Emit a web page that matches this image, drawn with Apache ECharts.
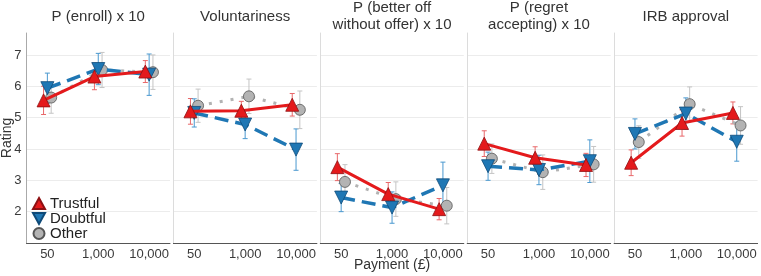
<!DOCTYPE html>
<html>
<head>
<meta charset="utf-8">
<script src="https://cdn.jsdelivr.net/npm/echarts@6/dist/echarts.min.js"></script>
<style>
html,body{margin:0;padding:0;background:#fff;}
#chart{width:761px;height:276px;}
</style>
</head>
<body>
<div id="chart"></div>
<script>
// ---- data ----
const categories = ['50', '1,000', '10,000'];
const panelTitles = ['P (enroll) x 10', 'Voluntariness', 'P (better off\nwithout offer) x 10', 'P (regret\naccepting) x 10', 'IRB approval'];
const groups = ['Trustful', 'Doubtful', 'Other'];
const yTicks = [2, 3, 4, 5, 6, 7];

const trustfulMean = [[5.55, 6.31, 6.47], [5.20, 5.22, 5.41], [3.42, 2.56, 2.08], [4.17, 3.72, 3.49], [3.56, 4.83, 5.15]];
const trustfulErr  = [[0.45, 0.42, 0.35], [0.41, 0.30, 0.36], [0.43, 0.37, 0.34], [0.41, 0.35, 0.37], [0.41, 0.42, 0.35]];
const doubtfulMean = [[5.94, 6.55, 6.37], [5.15, 4.78, 3.98], [2.45, 2.13, 2.84], [3.45, 3.33, 3.61], [4.48, 5.13, 4.23]];
const doubtfulErr  = [[0.48, 0.50, 0.66], [0.45, 0.45, 0.66], [0.45, 0.50, 0.74], [0.45, 0.47, 0.68], [0.48, 0.50, 0.62]];
const otherMean    = [[5.64, 6.52, 6.45], [5.38, 5.68, 5.25], [2.95, 2.40, 2.19], [3.69, 3.26, 3.51], [4.22, 5.43, 4.75]];
const otherErr     = [[0.50, 0.56, 0.55], [0.53, 0.55, 0.60], [0.55, 0.55, 0.58], [0.47, 0.55, 0.57], [0.52, 0.55, 0.60]];

// ---- styling / layout ----
const FONT = 'Liberation Sans, Arial, Helvetica, sans-serif';
const panelLeft0 = 26.5, panelStep = 146.9, panelWidth = 143.5, panelTop = 33, panelHeight = 210;
const dodge = { Trustful: -0.075, Doubtful: 0, Other: 0.075 };
const styles = {
  Trustful: { color: '#e41a1c', border: '#8e1012', err: '#e8686a', symbol: 'triangle', rotate: 0, size: 13,
              line: { type: 'solid', width: 3 } },
  Doubtful: { color: '#1f77b4', border: '#0e4a78', err: '#4a98cf', symbol: 'triangle', rotate: 180, size: 13,
              line: { type: [14, 7], width: 3.5 } },
  Other:    { color: '#b3b3b3', border: '#555555', err: '#c4c4c4', symbol: 'circle', rotate: 0, size: 11,
              line: { type: [3, 8], width: 3 } }
};
const meanData = { Trustful: trustfulMean, Doubtful: doubtfulMean, Other: otherMean };
const errData = { Trustful: trustfulErr, Doubtful: doubtfulErr, Other: otherErr };

const grids = [], xAxes = [], yAxes = [], series = [], graphics = [];

for (let i = 0; i < panelTitles.length; i++) {
  const left = panelLeft0 + i * panelStep;
  grids.push({ left: left, top: panelTop, width: panelWidth, height: panelHeight, containLabel: false });
  xAxes.push({
    type: 'value', gridIndex: i, min: 0.59, max: 3.41,
    axisLine: { show: true, lineStyle: { color: '#555', width: 1 } },
    axisTick: { show: false, customValues: [1, 2, 3] },
    axisLabel: { show: true, customValues: [1, 2, 3], formatter: v => categories[Math.round(v) - 1],
                 fontSize: 13, color: '#3a3a3a', fontFamily: FONT, margin: 5 },
    splitLine: { show: false }
  });
  yAxes.push({
    type: 'value', gridIndex: i, min: 1, max: 7.7,
    axisLine: { show: true, lineStyle: { color: i === 0 ? '#aaaaaa' : '#dcdcdc', width: 1 } },
    axisTick: { show: false, customValues: yTicks },
    axisLabel: { show: i === 0, customValues: yTicks, fontSize: 13, color: '#3a3a3a', fontFamily: FONT, margin: 5 },
    splitLine: { show: true, lineStyle: { color: '#ececec', width: 1 } }
  });
  graphics.push({
    type: 'text', x: left + panelWidth / 2, y: 16.7, z: 10,
    style: { text: panelTitles[i], textAlign: 'center', textVerticalAlign: 'middle',
             fontSize: 15, lineHeight: 16.7, fontFamily: FONT, fill: '#333' }
  });

  groups.forEach(function (g) {
    const st = styles[g];
    const means = meanData[g][i], errs = errData[g][i];
    // error bars
    series.push({
      type: 'custom', xAxisIndex: i, yAxisIndex: i, z: 2, silent: true,
      data: means.map((m, k) => [k + 1 + dodge[g], m - errs[k], m + errs[k]]),
      encode: { x: 0, y: [1, 2] },
      renderItem: function (params, api) {
        const x = api.value(0);
        const p1 = api.coord([x, api.value(1)]);
        const p2 = api.coord([x, api.value(2)]);
        const w = 2.5, s = { stroke: st.err, lineWidth: 1 };
        return { type: 'group', children: [
          { type: 'line', shape: { x1: p1[0], y1: p1[1], x2: p2[0], y2: p2[1] }, style: s },
          { type: 'line', shape: { x1: p1[0] - w, y1: p1[1], x2: p1[0] + w, y2: p1[1] }, style: s },
          { type: 'line', shape: { x1: p2[0] - w, y1: p2[1], x2: p2[0] + w, y2: p2[1] }, style: s }
        ]};
      }
    });
    // lines + markers
    series.push({
      type: 'line', name: g, xAxisIndex: i, yAxisIndex: i,
      z: g === 'Other' ? 3 : (g === 'Doubtful' ? 4 : 5),
      data: means.map((m, k) => [k + 1 + dodge[g], m]),
      symbol: st.symbol, symbolRotate: st.rotate, symbolSize: st.size, showAllSymbol: true,
      lineStyle: { color: st.color, width: st.line.width, type: st.line.type, cap: 'butt' },
      itemStyle: { color: st.color, borderColor: st.border, borderWidth: 0.8 },
      emphasis: { disabled: true }
    });
  });
}

graphics.push({
  type: 'text', x: 7, y: panelTop + panelHeight / 2, rotation: Math.PI / 2,
  style: { text: 'Rating', textAlign: 'center', textVerticalAlign: 'middle', fontSize: 14, fontFamily: FONT, fill: '#333' }
});
graphics.push({
  type: 'text', x: panelLeft0 + 2 * panelStep + panelWidth / 2, y: 265,
  style: { text: 'Payment (£)', textAlign: 'center', textVerticalAlign: 'middle', fontSize: 14, fontFamily: FONT, fill: '#333' }
});

const option = {
  animation: false,
  backgroundColor: '#ffffff',
  grid: grids,
  xAxis: xAxes,
  yAxis: yAxes,
  series: series,
  graphic: graphics,
  legend: {
    orient: 'vertical', left: 32, top: 196, itemGap: 0, itemWidth: 12, itemHeight: 11,
    padding: 0,
    textStyle: { fontSize: 15, lineHeight: 13.5, color: '#222', fontFamily: FONT },
    data: [
      { name: 'Trustful', icon: 'path://M6,0 L12,11 L0,11 Z' },
      { name: 'Doubtful', icon: 'path://M0,0 L12,0 L6,11 Z' },
      { name: 'Other', icon: 'circle' }
    ],
    selectedMode: false
  }
};

const chart = echarts.init(document.getElementById('chart'), null, { renderer: 'canvas' });
chart.setOption(option);
</script>
</body>
</html>
